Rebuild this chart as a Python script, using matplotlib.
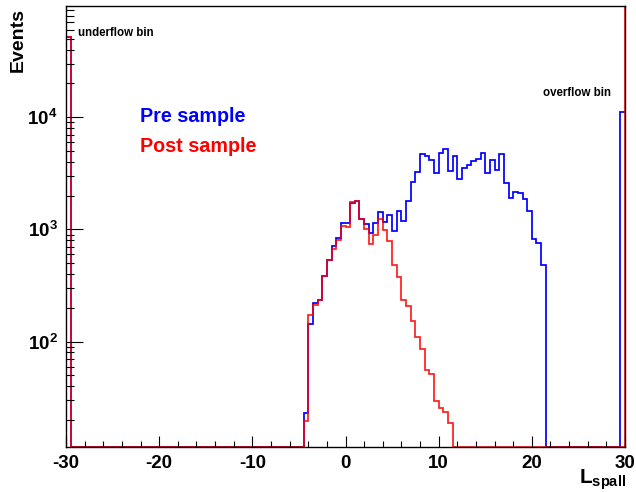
import numpy as np
import matplotlib
matplotlib.use("Agg")
import matplotlib.pyplot as plt
from matplotlib.ticker import MultipleLocator, LogLocator, NullFormatter, FixedLocator
from matplotlib.transforms import Bbox, TransformedBbox

plt.rcParams['font.family'] = ['Liberation Sans', 'DejaVu Sans']
plt.rcParams['mathtext.fontset'] = 'custom'
plt.rcParams['mathtext.rm'] = 'Liberation Sans:bold'
plt.rcParams['mathtext.bf'] = 'Liberation Sans:bold'
plt.rcParams['mathtext.it'] = 'Liberation Sans:bold'

# ---------------- data ----------------
x_min, x_max, bin_width = -30.0, 30.0, 0.5
y_min, y_max = 11.5, 9.8e4

# Pre sample: contents of bins starting at L = -4.5
pre_start = -4.5
pre_values = [23, 145, 221, 234, 383, 535, 710, 832, 1148, 1140,
              1720, 1780, 1236, 1124, 921, 1148, 1439, 1161, 1334, 960,
              1469, 1179, 1795, 2643, 3273, 4677, 4487, 4159, 3162, 4800,
              5179, 3296, 4467, 2795, 3556, 3725, 4070, 4276, 4776, 3162,
              4130, 3381, 4677, 2612, 1919, 2154, 2096, 1853, 1455, 826,
              750, 477]
pre_underflow = 52000
pre_overflow = 11150

# Post sample: contents of bins starting at L = -4.5
post_start = -4.5
post_values = [19.7, 171, 214, 234, 383, 535, 673, 803, 1071, 1060,
               1760, 1810, 1236, 1014, 745, 889, 1228, 993, 782, 477,
               380, 234, 207, 153, 109, 86, 56, 51.5, 29.4, 25.6,
               23.5, 18.7]
post_underflow = 52000
post_overflow = 2.0e5   # above the frame top

x_ticks = [-30, -20, -10, 0, 10, 20, 30]
y_ticks = [1e2, 1e3, 1e4]
y_ticklabels = [r'$\mathbf{10^{2}}$', r'$\mathbf{10^{3}}$', r'$\mathbf{10^{4}}$']

# ---------------- build histograms ----------------
nb = int(round((x_max - x_min) / bin_width))
edges = np.linspace(x_min, x_max, nb + 1)

pre = np.zeros(nb)
i0 = int(round((pre_start - x_min) / bin_width))
pre[i0:i0 + len(pre_values)] = pre_values
pre[0] = pre_underflow
pre[-1] = pre_overflow

post_edges = np.append(edges, x_max + bin_width)
post = np.zeros(nb + 1)
j0 = int(round((post_start - x_min) / bin_width))
post[j0:j0 + len(post_values)] = post_values
post[0] = post_underflow
post[-1] = post_overflow

# ---------------- figure ----------------
W, H = 636, 492
fig = plt.figure(figsize=(W / 100, H / 100), dpi=100)
L, R, T, B = 66, 625, 6, 447
ax = fig.add_axes([L / W, (H - B) / H, (R - L) / W, (B - T) / H])
ax.set_yscale('log')
ax.set_xlim(x_min, x_max)
ax.set_ylim(y_min, y_max)

clip = TransformedBbox(Bbox([[-0.004, -0.006], [1.004, 1.0]]), ax.transAxes)

s1 = ax.stairs(np.clip(pre, y_min, None), edges, baseline=None,
               color='#0000ff', lw=1.25)
s2 = ax.stairs(np.clip(post, y_min, None), post_edges, baseline=None,
               color='#ff0000', lw=1.25, alpha=0.88)
for s in (s1, s2):
    s.set_clip_box(clip)

# axes styling
for sp in ax.spines.values():
    sp.set_linewidth(1.0)
    sp.set_color('black')

ax.xaxis.set_major_locator(FixedLocator(x_ticks))
ax.xaxis.set_minor_locator(MultipleLocator(2))
ax.set_xticklabels([str(v) for v in x_ticks], fontsize=13.5, fontweight='bold')
ax.tick_params(axis='x', which='major', direction='in', length=8, width=0.8,
               pad=6, top=False)
ax.tick_params(axis='x', which='minor', direction='in', length=4, width=0.8,
               top=False)

ax.yaxis.set_major_locator(FixedLocator(y_ticks))
ax.set_yticklabels(y_ticklabels, fontsize=13.5)
ax.yaxis.set_minor_locator(LogLocator(base=10, subs=np.arange(2, 10), numticks=20))
ax.yaxis.set_minor_formatter(NullFormatter())
ax.tick_params(axis='y', which='major', direction='in', length=12, width=0.8,
               pad=6, right=False)
ax.tick_params(axis='y', which='minor', direction='in', length=6, width=0.8,
               right=False)

# texts
fig.text(18 / W, 1 - 8 / H, 'Events', rotation=90, ha='center', va='top',
         fontsize=14, fontweight='bold')
fig.text((R + 1) / W, 1 - 484 / H, r'$\mathbf{L_{spall}}$', ha='right',
         va='baseline', fontsize=15)
fig.text(78 / W, 1 - 33 / H, 'underflow bin', ha='left', va='center',
         fontsize=8.3, fontweight='bold')
fig.text(543 / W, 1 - 93.5 / H, 'overflow bin', ha='left', va='center',
         fontsize=8.3, fontweight='bold')
fig.text(140 / W, 1 - 117 / H, 'Pre sample', ha='left', va='center',
         fontsize=14.2, fontweight='bold', color='#0000ff')
fig.text(140 / W, 1 - 147 / H, 'Post sample', ha='left', va='center',
         fontsize=14.2, fontweight='bold', color='#ff0000')

fig.savefig('out.png', dpi=100, facecolor='white')
